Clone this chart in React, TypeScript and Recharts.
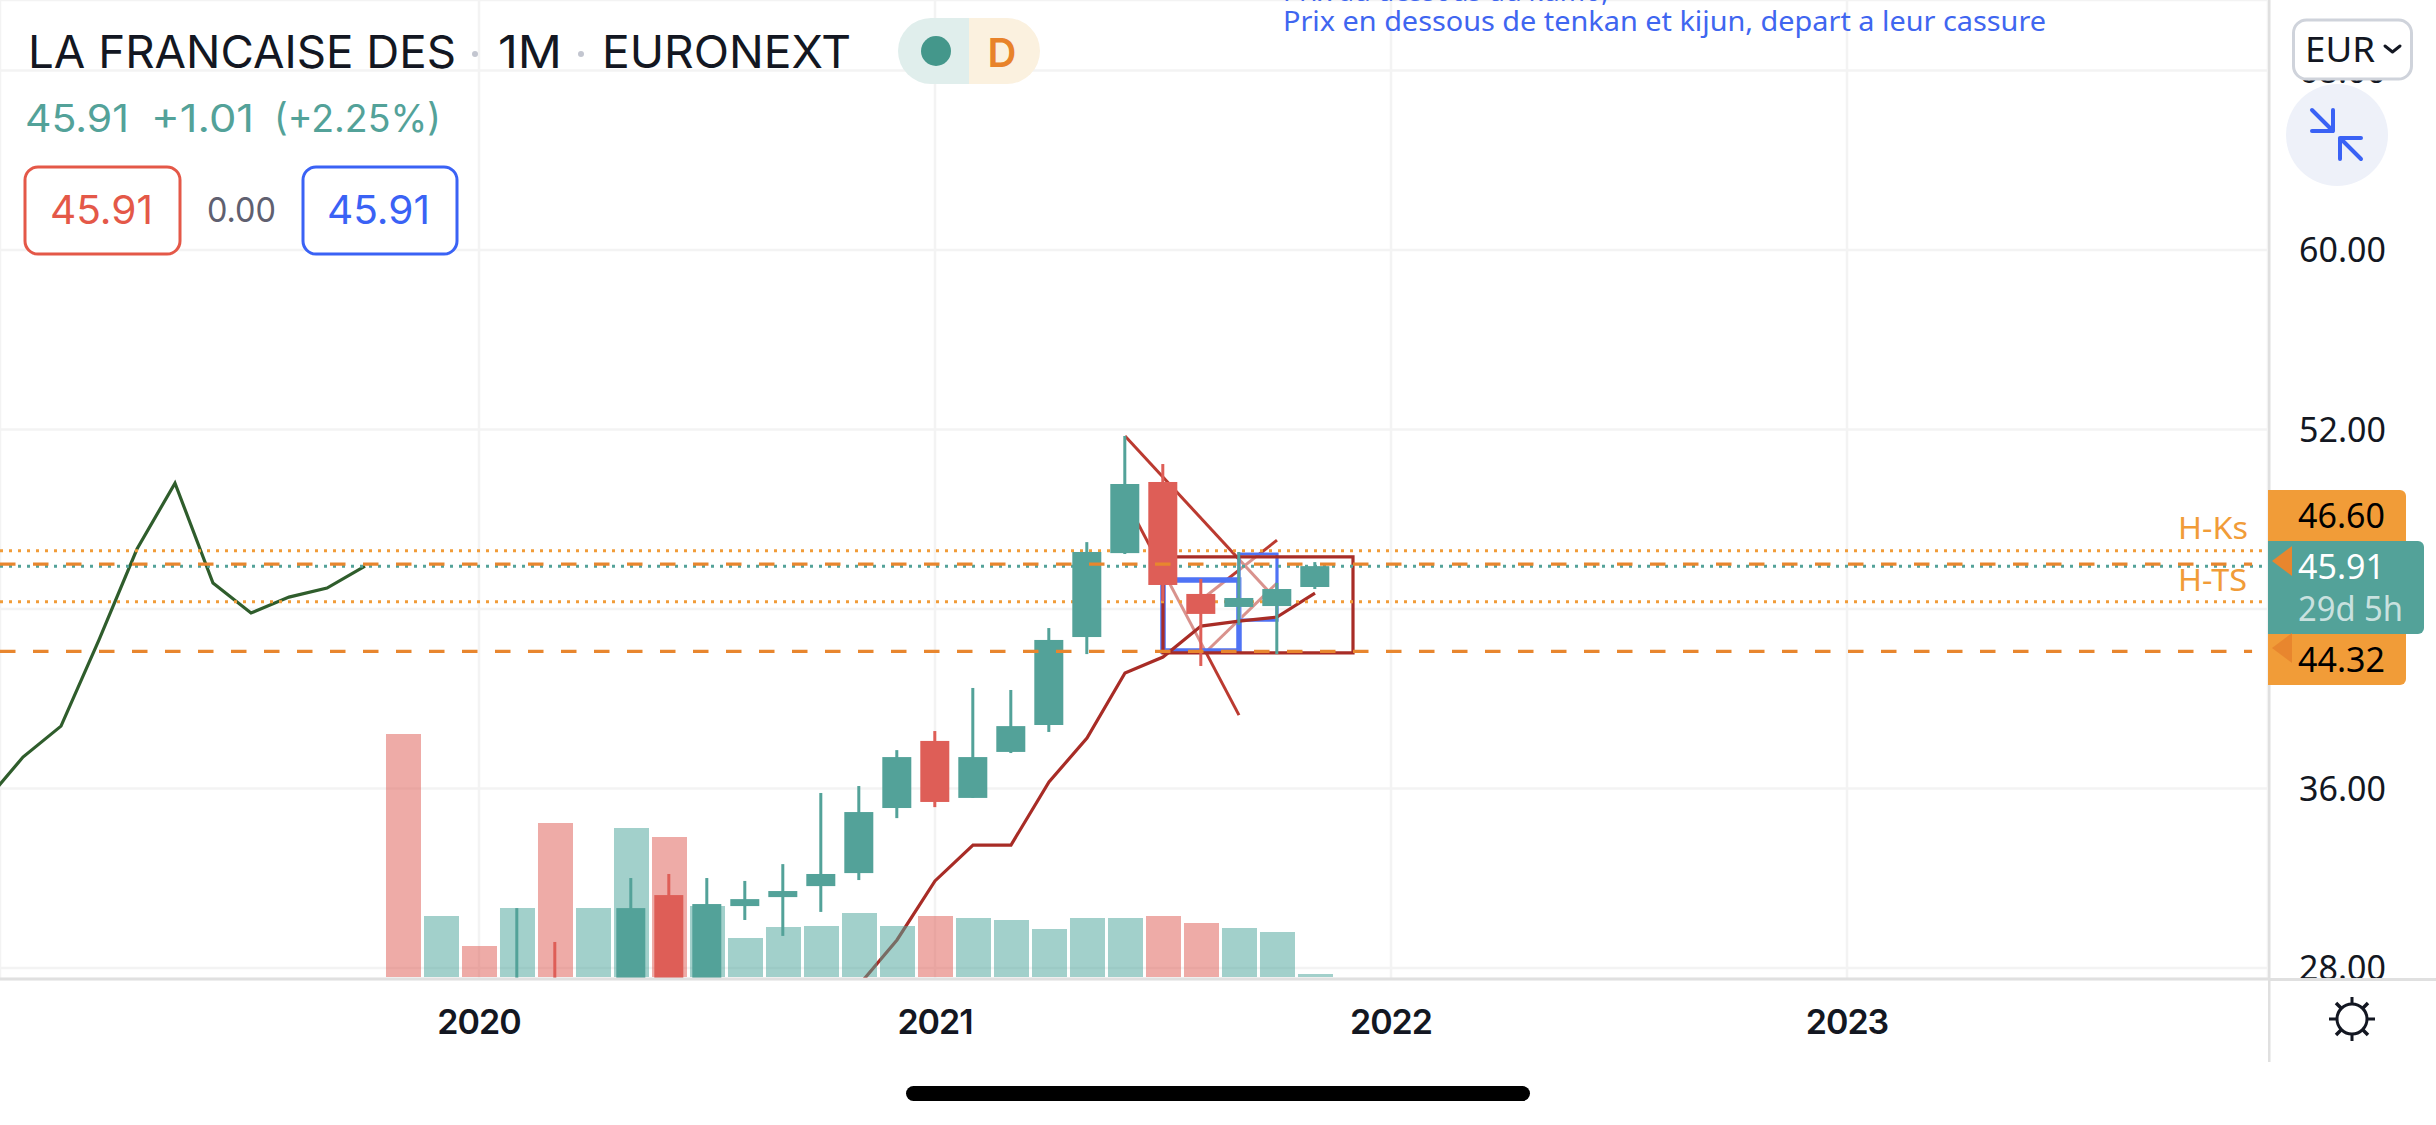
import React from "react";
import {
  Bar,
  CartesianGrid,
  ComposedChart,
  Line,
  ReferenceArea,
  XAxis,
  YAxis,
} from "recharts";

// months counted from Jan 2020, candles run Nov 2019 .. Nov 2021
const months = [-2, -1, 0, 1, 2, 3, 4, 5, 6, 7, 8, 9, 10, 11, 12, 13, 14, 15, 16, 17, 18, 19, 20, 21, 22];
const opens = [22, 22, 25, 25, 26, 24, 27, 31.25, 27, 30.76, 31.16, 31.65, 32.23, 35.13, 38.12, 35.58, 37.63, 38.83, 42.75, 46.49, 49.66, 44.67, 44.09, 44.13, 44.98];
const closes = [20, 24, 24, 26, 24, 26.5, 30.67, 27, 30.85, 31.07, 31.43, 32.19, 34.95, 37.4, 35.4, 37.4, 38.78, 42.62, 46.54, 49.57, 45.07, 43.78, 44.49, 44.89, 45.91];
const highs = [23, 25, 26, 30.67, 29.16, 27, 32.01, 32.19, 32.01, 31.88, 32.63, 35.8, 36.11, 37.71, 38.56, 40.48, 40.39, 43.15, 46.98, 51.71, 50.46, 45.34, 46.54, 45.16, 46.09];
const lows = [19, 21, 23, 24, 23, 22, 26, 26, 26, 30.14, 29.43, 30.5, 31.92, 34.68, 35.17, 35.58, 37.58, 38.52, 41.99, 46.45, 44.35, 41.46, 43.29, 41.99, 44.89];
const volumes = [2430, 610, 310, 690, 1540, 690, 1490, 1400, 710, 390, 500, 510, 640, 510, 610, 590, 570, 480, 590, 590, 610, 540, 490, 450, 30];

const chikouMonths = [-13, -12, -11, -10, -9, -8, -7, -6, -5, -4, -3];
const chikouValues = [35.4, 37.4, 38.78, 42.62, 46.67, 49.61, 45.16, 43.82, 44.53, 44.93, 45.91];

const kijunMonths = [10, 11, 12, 13, 14, 15, 16, 17, 18, 19, 20, 21, 22];
const kijunValues = [27.24, 29.25, 31.88, 33.48, 33.48, 36.29, 38.25, 41.15, 41.86, 43.24, 43.46, 43.64, 44.71];

// hand drawn trend lines: [month, price, month, price]
const trendLines = [
  [17, 51.71, 21, 44.38],
  [17, 48.91, 20, 39.27],
  [19.1, 42.04, 21, 45.16],
  [19, 44.4, 21, 47.07],
];

const levelDotted = [46.6, 44.32];
const levelDashed = [46.0, 42.11];
const lastPrice = 45.91;

const yTicks = [28, 36, 44, 52, 60, 68];
const yearTicks = [0, 12, 24, 36];
const yearLabels = ["2020", "2021", "2022", "2023"];

const TEAL = "#53a299";
const RED = "#de5e57";
const ORANGE = "#f19c38";
const DASH_ORANGE = "#e8862e";
const BLUE = "#3a62f5";
const BOX_RED = "#a82c26";
const LABEL_FONT = "'Noto Sans', sans-serif";
const TITLE_FONT = "Inter, sans-serif";
const BODY_WIDTH = 29;

const rows = months.map((m, i) => ({
  m,
  open: opens[i],
  close: closes[i],
  high: highs[i],
  low: lows[i],
  range: [lows[i], highs[i]],
  volume: volumes[i],
}));

const twoPoints = (a: number, b: number, v: number) => [
  { m: a, v },
  { m: b, v },
];

const Candle = (props: any) => {
  const { x, y, width, height, payload } = props;
  const up = payload.close >= payload.open;
  const fill = up ? TEAL : RED;
  const center = x + width / 2;
  const perUnit = height / (payload.high - payload.low);
  const top = y + (payload.high - Math.max(payload.open, payload.close)) * perUnit;
  const bottom = y + (payload.high - Math.min(payload.open, payload.close)) * perUnit;
  return (
    <g>
      <rect x={center - 1.5} y={y} width={3} height={height} fill={fill} />
      <rect x={center - BODY_WIDTH / 2} y={top} width={BODY_WIDTH} height={bottom - top} fill={fill} />
    </g>
  );
};

const VolumeBar = (props: any) => {
  const { x, y, width, height, payload } = props;
  const up = payload.close >= payload.open;
  return <rect x={x} y={y} width={width} height={height} fill={up ? "#4fa69c" : RED} fillOpacity={up ? 0.53 : 0.52} />;
};

const Overlay = () => (
  <svg width={2436} height={1125} style={{ position: "absolute", left: 0, top: 0 }}>
    <rect x={2268} y={0} width={2.5} height={1062} fill="#e0e0e0" />
    <rect x={2268} y={978} width={168} height={3} fill="#e0e0e0" />

    <text x={28} y={68} fontFamily={TITLE_FONT} fontSize={45} fill="#131722" textLength={428} lengthAdjust="spacingAndGlyphs">LA FRANCAISE DES</text>
    <circle cx={475} cy={54} r={3} fill="#c3c6d0" />
    <text x={498} y={68} fontFamily={TITLE_FONT} fontSize={45} fill="#131722" textLength={64} lengthAdjust="spacingAndGlyphs">1M</text>
    <circle cx={581} cy={54} r={3} fill="#c3c6d0" />
    <text x={602} y={68} fontFamily={TITLE_FONT} fontSize={45} fill="#131722" textLength={249} lengthAdjust="spacingAndGlyphs">EURONEXT</text>

    <path d="M969 18 H931 A33 33 0 0 0 931 84 H969 Z" fill="#e0eeec" />
    <path d="M969 18 H1007 A33 33 0 0 1 1007 84 H969 Z" fill="#fbf1df" />
    <circle cx={936} cy={51} r={15} fill="#44978b" />
    <text x={1002} y={67} textAnchor="middle" fontFamily={TITLE_FONT} fontSize={40} fontWeight={600} fill="#e8832a">D</text>

    <text x={25} y={132} fontFamily={TITLE_FONT} fontSize={38} fill={TEAL} textLength={104} lengthAdjust="spacingAndGlyphs">45.91</text>
    <text x={151} y={132} fontFamily={TITLE_FONT} fontSize={38} fill={TEAL} textLength={103} lengthAdjust="spacingAndGlyphs">+1.01</text>
    <text x={274} y={132} fontFamily={TITLE_FONT} fontSize={38} fill={TEAL} textLength={167} lengthAdjust="spacingAndGlyphs">(+2.25%)</text>

    <rect x={25} y={167} width={155} height={87} rx={13} fill="#fff" stroke="#e45848" strokeWidth={3} />
    <text x={50} y={224} fontFamily={TITLE_FONT} fontSize={39} fill="#e45848" textLength={103} lengthAdjust="spacingAndGlyphs">45.91</text>
    <text x={207} y={222} fontFamily={TITLE_FONT} fontSize={34} fill="#5f6070" textLength={69} lengthAdjust="spacingAndGlyphs">0.00</text>
    <rect x={303} y={167} width={154} height={87} rx={13} fill="#fff" stroke={BLUE} strokeWidth={3} />
    <text x={327} y={224} fontFamily={TITLE_FONT} fontSize={39} fill={BLUE} textLength={103} lengthAdjust="spacingAndGlyphs">45.91</text>

    <text x={1283} y={1} fontFamily={LABEL_FONT} fontSize={27} fill="#3f66f0">Prix au dessous du kumo,</text>
    <text x={1283} y={31} fontFamily={LABEL_FONT} fontSize={28} fill="#3f66f0" textLength={763} lengthAdjust="spacingAndGlyphs">Prix en dessous de tenkan et kijun, depart a leur cassure</text>

    <text x={2178} y={539} fontFamily={LABEL_FONT} fontSize={30} fill={ORANGE} textLength={70} lengthAdjust="spacingAndGlyphs">H-Ks</text>
    <text x={2178} y={591} fontFamily={LABEL_FONT} fontSize={30} fill={ORANGE} textLength={69} lengthAdjust="spacingAndGlyphs">H-TS</text>

    <path d="M2268 490 H2400 A6 6 0 0 1 2406 496 V541 H2268 Z" fill={ORANGE} />
    <text x={2298} y={528} fontFamily={LABEL_FONT} fontSize={34} fill="#000">46.60</text>
    <path d="M2268 634 H2406 V679 A6 6 0 0 1 2400 685 H2268 Z" fill={ORANGE} />
    <text x={2298} y={672} fontFamily={LABEL_FONT} fontSize={34} fill="#000">44.32</text>
    <path d="M2268 541 H2418 A6 6 0 0 1 2424 547 V628 A6 6 0 0 1 2418 634 H2268 Z" fill={TEAL} />
    <text x={2298} y={579} fontFamily={LABEL_FONT} fontSize={34} fill="#fff">45.91</text>
    <text x={2298} y={621} fontFamily={LABEL_FONT} fontSize={34} fill="#fff" fillOpacity={0.7} textLength={105} lengthAdjust="spacingAndGlyphs">29d 5h</text>
    <path d="M2272 561 L2292 546 V576 Z" fill={DASH_ORANGE} />
    <path d="M2272 648 L2292 633 V663 Z" fill={DASH_ORANGE} />

    <rect x={2293.5} y={20} width={118} height={59} rx={13} fill="#fff" stroke="#cfd3db" strokeWidth={3} />
    <text x={2305} y={62} fontFamily={LABEL_FONT} fontSize={34} fill="#131722" textLength={70} lengthAdjust="spacingAndGlyphs">EUR</text>
    <path d="M2385 46 L2392.5 52 L2400 46" fill="none" stroke="#131722" strokeWidth={3} strokeLinecap="round" strokeLinejoin="round" />

    <circle cx={2337} cy={135} r={51} fill="#eef1f9" />
    <g fill="none" stroke={BLUE} strokeWidth={4} strokeLinecap="round" strokeLinejoin="round">
      <path d="M2312 110 L2333 131 M2333 110 V131 H2312" />
      <path d="M2340 138 L2361 159 M2340 159 V138 H2361" />
    </g>

    <g fill="none" stroke="#131722" strokeWidth={3}>
      <circle cx={2352} cy={1019} r={15} />
      <path d="M2352 997 V1004 M2352 1034 V1041 M2329 1019 H2336 M2368 1019 H2375" strokeWidth={3} />
      <path d="M2336 1003 L2341 1008 M2363 1030 L2368 1035 M2368 1003 L2363 1008 M2341 1030 L2336 1035" strokeWidth={3.5} />
    </g>

    <rect x={906} y={1086} width={624} height={15} rx={7.5} fill="#000" />
  </svg>
);

export default function App() {
  return (
    <div style={{ position: "absolute", left: 0, top: 0, width: 2436, height: 1125, background: "#fff", overflow: "hidden" }}>
      <ComposedChart width={2436} height={1125} data={rows} margin={{ top: 0, right: 0, bottom: 0, left: 0 }}>
        <CartesianGrid stroke="#f3f3f3" strokeWidth={2.5} />
        <XAxis
          dataKey="m"
          type="number"
          domain={[-12.605, 47.079]}
          allowDataOverflow
          ticks={yearTicks}
          interval={0}
          height={146}
          tickLine={false}
          tickSize={0}
          tickMargin={31}
          axisLine={{ stroke: "#e0e0e0", strokeWidth: 3 }}
          tickFormatter={(m: number) => yearLabels[yearTicks.indexOf(m)]}
          tick={{ fontSize: 34, fontWeight: 600, fill: "#131722", fontFamily: TITLE_FONT, letterSpacing: -1 }}
        />
        <YAxis
          orientation="right"
          width={168}
          domain={[27.51, 71.14]}
          allowDataOverflow
          ticks={yTicks}
          interval={0}
          tickLine={false}
          tickSize={0}
          tickMargin={31}
          axisLine={false}
          tickFormatter={(v: number) => v.toFixed(2)}
          tick={{ fontSize: 34, fill: "#131722", fontFamily: LABEL_FONT }}
        />
        <XAxis xAxisId="vol" dataKey="m" type="number" domain={[-12.605, 47.079]} allowDataOverflow ticks={yearTicks} hide />
        <YAxis yAxisId="vol" domain={[-20, 9770]} allowDataOverflow hide />

        {trendLines.map((t, i) => (
          <Line
            key={i}
            data={[
              { m: t[0], v: t[1] },
              { m: t[2], v: t[3] },
            ]}
            dataKey="v"
            stroke="#bb3a30"
            strokeWidth={3}
            dot={false}
            activeDot={false}
            isAnimationActive={false}
            zIndex={1}
          />
        ))}
        <ReferenceArea x1={18} x2={20} y1={42.13} y2={45.29} fill="#fff" fillOpacity={0.45} stroke="#4f73f5" strokeWidth={5.5} zIndex={2} />
        <ReferenceArea x1={20} x2={21} y1={43.5} y2={46.45} fill="#fff" fillOpacity={0.45} stroke="#4f73f5" strokeWidth={3.2} zIndex={2} />
        <Line
          data={kijunMonths.map((m, i) => ({ m, v: kijunValues[i] }))}
          dataKey="v"
          stroke={BOX_RED}
          strokeWidth={3.2}
          dot={false}
          activeDot={false}
          isAnimationActive={false}
          zIndex={3}
        />
        <ReferenceArea x1={18} x2={23} y1={42.04} y2={46.32} fill="none" fillOpacity={0} stroke={BOX_RED} strokeWidth={3.2} zIndex={3} />
        <Line
          data={chikouMonths.map((m, i) => ({ m, v: chikouValues[i] }))}
          dataKey="v"
          stroke="#2f5d2c"
          strokeWidth={3.2}
          dot={false}
          activeDot={false}
          isAnimationActive={false}
          zIndex={3}
        />
        {levelDotted.map((v) => (
          <Line
            key={v}
            data={twoPoints(-12.605, 46.92, v)}
            dataKey="v"
            stroke={ORANGE}
            strokeWidth={3}
            strokeDasharray="3 6"
            dot={false}
            activeDot={false}
            isAnimationActive={false}
            zIndex={4}
          />
        ))}
        <Line
          data={twoPoints(-12.605, 46.92, lastPrice)}
          dataKey="v"
          stroke={TEAL}
          strokeWidth={3}
          strokeDasharray="3 6"
          dot={false}
          activeDot={false}
          isAnimationActive={false}
          zIndex={4}
        />
        <Bar xAxisId="vol" yAxisId="vol" dataKey="volume" barSize={35} shape={VolumeBar} isAnimationActive={false} zIndex={5} />
        <Bar dataKey="range" barSize={29} shape={Candle} isAnimationActive={false} zIndex={6} />
        {levelDashed.map((v) => (
          <Line
            key={v}
            data={twoPoints(-12.605, 46.66, v)}
            dataKey="v"
            stroke={DASH_ORANGE}
            strokeWidth={3.4}
            strokeDasharray="15.5 17.5"
            dot={false}
            activeDot={false}
            isAnimationActive={false}
            zIndex={7}
          />
        ))}
      </ComposedChart>
      <Overlay />
    </div>
  );
}
